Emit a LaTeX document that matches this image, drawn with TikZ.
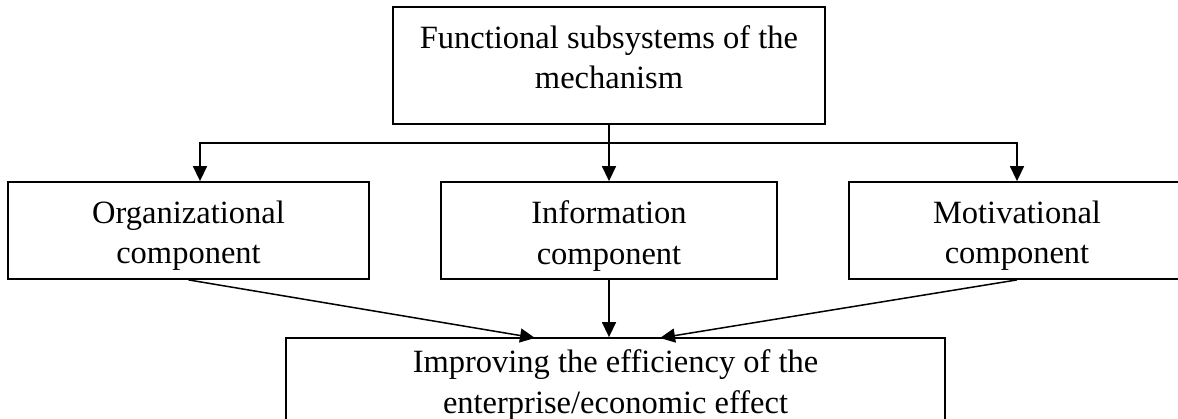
\documentclass[tikz,border=0pt]{standalone}
\usepackage{fontspec}
\setmainfont{Liberation Serif}
\usetikzlibrary{arrows.meta}
\begin{document}
\begin{tikzpicture}[x=1pt,y=-1pt,
  box/.style={draw, line width=1.8pt, inner sep=0pt},
  lbl/.style={font=\fontsize{32.5}{40.5}\selectfont, align=center, inner sep=0pt},
  link/.style={line width=1.5pt},
  conn/.style={line width=1.5pt, -{Triangle[length=15pt,width=14pt]}}]
\useasboundingbox (0,0) rectangle (1178,419);
\clip (0,0) rectangle (1178,419);
% boxes
\node[box, minimum width=432pt, minimum height=117pt] (top) at (609,65.5) {};
\node[lbl] (toptext) at (609,57.4) {Functional subsystems of the\\mechanism};
\node[box, minimum width=361pt, minimum height=97pt] (org) at (188.5,230.5) {};
\node[lbl] (orgtext) at (188.5,235.9) {Organizational\\component};
\node[box, minimum width=336pt, minimum height=97pt] (info) at (609,230.5) {};
\node[lbl] (infotext) at (609,235.9) {Information\\component};
\node[box, minimum width=336pt, minimum height=97pt] (mot) at (1017,230.5) {};
\node[lbl] (mottext) at (1017,235.9) {Motivational\\component};
\node[box, minimum width=659pt, minimum height=110pt] (eff) at (615.5,393) {};
\node[lbl] (efftext) at (615.5,385) {Improving the efficiency of the\\enterprise/economic effect};
% connectors
\coordinate (split) at (609,143);
\coordinate (jl) at (200,143);
\coordinate (inL) at (535,338);
\coordinate (inR) at (660,338);
\draw[link] (top.south) -- (split);
\draw[conn] (split) -- (info.north);
\draw[conn] (split) -| (jl |- org.north);
\draw[conn] (split) -| (mot.north);
\draw[conn] (org.south) -- (inL);
\draw[conn] (info.south) -- (info.south |- eff.north);
\draw[conn] (mot.south) -- (inR);
\end{tikzpicture}
\end{document}
